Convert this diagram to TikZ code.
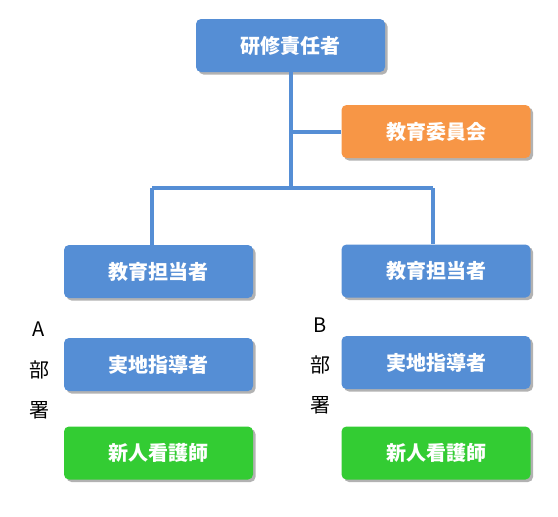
\documentclass[tikz,border=0pt]{standalone}
\usepackage{fontspec}
\newfontfamily\cjk{Noto Sans CJK JP}
\newfontfamily\cjkmed{Noto Sans CJK JP Medium}
\usetikzlibrary{shadows}
\definecolor{boxblue}{HTML}{558ED5}
\definecolor{boxorange}{HTML}{F79646}
\definecolor{boxgreen}{HTML}{33CC33}
\tikzset{
  orgbox/.style={rounded corners=5pt, minimum width=189pt, minimum height=53pt,
    text=white, font=\cjk\bfseries\fontsize{20}{22}\selectfont, inner sep=0pt,
    drop shadow={shadow xshift=2.5pt, shadow yshift=-2.5pt, fill=black, opacity=0.3}},
  bluebox/.style={orgbox, fill=boxblue},
  orangebox/.style={orgbox, fill=boxorange},
  greenbox/.style={orgbox, fill=boxgreen},
  conn/.style={draw=boxblue, line width=4pt},
  dept/.style={font=\cjk\fontsize{20}{22}\selectfont, text=black, inner sep=0pt}
}
\begin{document}
\begin{tikzpicture}[x=1pt, y=-1pt]
\useasboundingbox (0,0) rectangle (558,517);
\coordinate (j1) at (290.5,131.5);
\coordinate (j2) at (290.5,188);
\coordinate (jl) at (152,188);
\coordinate (jr) at (433,188);
\node[bluebox] (top) at (290.5,45.5) {研修責任者};
\node[orangebox] (iinkai) at (436,131.5) {教育委員会};
\node[bluebox] (la) at (158.5,271.5) {教育担当者};
\node[bluebox] (lb) at (158.5,364.5) {実地指導者};
\node[greenbox] (lc) at (158.5,453) {新人看護師};
\node[bluebox] (ra) at (436,271) {教育担当者};
\node[bluebox] (rb) at (436,362.5) {実地指導者};
\node[greenbox] (rc) at (436,453) {新人看護師};
\draw[conn] (top.south) -- (j2);
\draw[conn] (j1) -- (iinkai.west);
\draw[conn] (jl) -- (jr);
\draw[conn] (jl) -- (jl |- la.north);
\draw[conn] (jr) -- (jr |- ra.north);
\node[dept] (A) at (39,329) {A};
\node[dept] (Abu) at (39,370) {部};
\node[dept] (Asho) at (39,410) {署};
\node[dept] (B) at (320,325) {B};
\node[dept] (Bbu) at (320,365) {部};
\node[dept] (Bsho) at (320,405) {署};
\end{tikzpicture}
\end{document}
